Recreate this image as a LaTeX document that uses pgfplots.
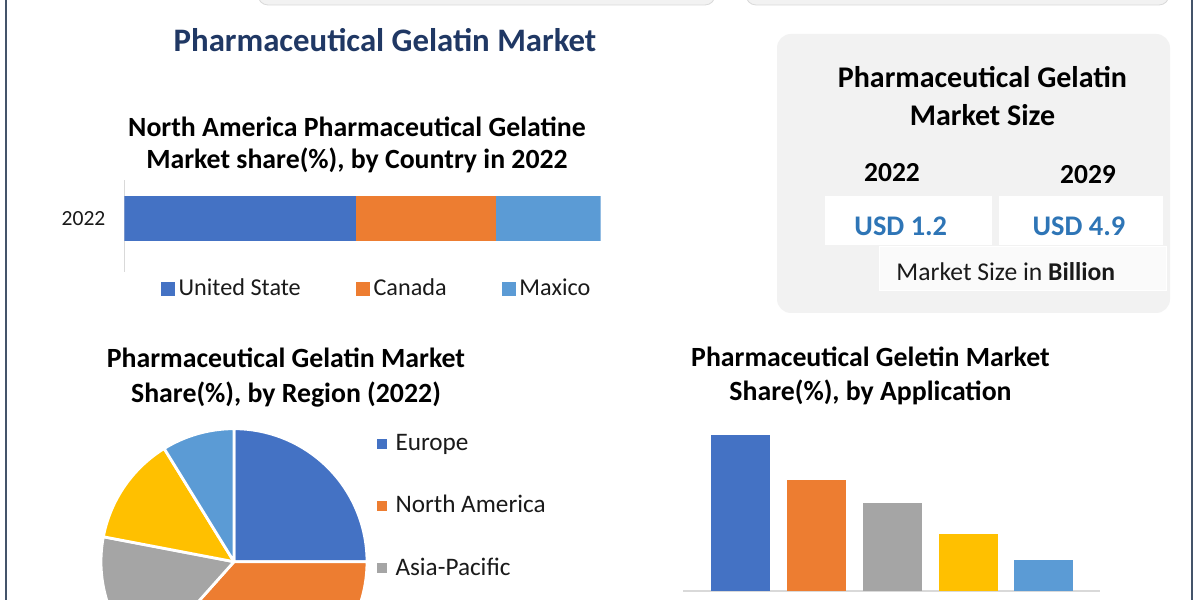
\documentclass[border=0pt]{standalone}
\usepackage{fontspec}
\setmainfont{Carlito}
\usepackage{pgfplots}
\pgfplotsset{compat=1.18}
\usepackage{pgfplotstable}

\definecolor{cBlue}{HTML}{4472C4}
\definecolor{cOrange}{HTML}{ED7D31}
\definecolor{cGray}{HTML}{A5A5A5}
\definecolor{cYellow}{HTML}{FFC000}
\definecolor{cLBlue}{HTML}{5B9BD5}
\definecolor{navy}{HTML}{203864}
\definecolor{usdblue}{HTML}{2E75B6}
\definecolor{panel}{HTML}{F2F2F2}
\definecolor{frameline}{HTML}{44546A}
\definecolor{axisgray}{HTML}{D9D9D9}
\definecolor{txt}{HTML}{1A1A1A}

% share by region (2022), clockwise from 12 o'clock
\pgfplotstableread{
region share color
Europe 25.0 cBlue
NorthAmerica 36.6 cOrange
AsiaPacific 16.4 cGray
MiddleEastAfrica 13.2 cYellow
SouthAmerica 8.8 cLBlue
}\regiontable

\newcommand\ttl{\fontsize{13.9}{16}\selectfont\bfseries}

\begin{document}
\begin{tikzpicture}
\useasboundingbox (0,0) rectangle (600pt,300pt);
\clip (0,0) rectangle (600pt,300pt);
\fill[white] (0,0) rectangle (600pt,300pt);

% frame and cut-off boxes on top
\draw[frameline, line width=1pt] (2.9pt,0) -- (2.9pt,300pt);
\draw[frameline, line width=1pt] (596pt,0) -- (596pt,300pt);
\fill[panel, draw=axisgray, rounded corners=5pt] (129pt,297.5pt) rectangle (357.5pt,310pt);
\fill[panel, draw=axisgray, rounded corners=5pt] (373pt,297.5pt) rectangle (584.5pt,310pt);

% main title
\node[navy, font=\fontsize{16.4}{19}\selectfont\bfseries] at (192.5pt,280pt) {Pharmaceutical Gelatin Market};

% market size panel
\fill[panel, rounded corners=7pt] (388.5pt,143.5pt) rectangle (585pt,283pt);
\node[font=\fontsize{15}{18}\selectfont\bfseries] at (491.25pt,261.6pt) {Pharmaceutical Gelatin};
\node[font=\fontsize{15}{18}\selectfont\bfseries] at (491.25pt,242.5pt) {Market Size};
\node[font=\fontsize{13.75}{16}\selectfont\bfseries] at (446pt,213.7pt) {2022};
\node[font=\fontsize{13.75}{16}\selectfont\bfseries] at (544pt,212.7pt) {2029};
\fill[white] (412.5pt,177.5pt) rectangle (495.8pt,202pt);
\fill[white] (499.5pt,177.5pt) rectangle (581.5pt,202pt);
\node[usdblue, font=\fontsize{14.2}{17}\selectfont\bfseries] at (450.4pt,186.7pt) {USD 1.2};
\node[usdblue, font=\fontsize{14.2}{17}\selectfont\bfseries] at (539.5pt,186.7pt) {USD 4.9};
\fill[white!60!panel, draw=white] (439.5pt,155pt) rectangle (583.3pt,176.7pt);
\node[txt, font=\fontsize{12.8}{15}\selectfont] at (502.9pt,164.2pt) {Market Size in \textbf{Billion}};

% chart titles
\node[font=\ttl] at (178.5pt,236.5pt) {North America Pharmaceutical Gelatine};
\node[font=\ttl] at (178.5pt,220pt) {Market share(\%), by Country in 2022};
\node[font=\ttl] at (143pt,121pt) {Pharmaceutical Gelatin Market};
\node[font=\ttl] at (143pt,102.5pt) {Share(\%), by Region (2022)};
\node[font=\ttl] at (435.25pt,121.5pt) {Pharmaceutical Geletin Market};
\node[font=\ttl] at (435.25pt,104pt) {Share(\%), by Application};

% North America share by country
\begin{axis}[
  at={(62.25pt,164pt)}, anchor=south west,
  scale only axis, width=238pt, height=46pt,
  xbar stacked, bar width=22.5pt,
  xmin=0, xmax=100, ymin=-1.163, ymax=0.837,
  axis x line=none, axis y line*=left,
  y axis line style={axisgray, line width=0.6pt, -},
  ytick={0}, yticklabels={2022}, major tick length=0pt,
  yticklabel style={font=\fontsize{10.8}{13}\selectfont, text=txt, xshift=-6pt},
  legend columns=3,
  legend style={at={(0.0767,-0.185)}, anchor=west, draw=none, fill=none,
    inner sep=0pt, font=\fontsize{12.1}{14}\selectfont, text=txt,
    nodes={inner sep=1.75pt},
    /tikz/every even column/.append style={column sep=26pt}},
]
\addlegendimage{legend image code/.code={\fill[cBlue] (0pt,-3.25pt) rectangle (6.5pt,3.25pt);}}
\addlegendentry{United State}
\addlegendimage{legend image code/.code={\fill[cOrange] (0pt,-3.25pt) rectangle (6.5pt,3.25pt);}}
\addlegendentry{Canada}
\addlegendimage{legend image code/.code={\fill[cLBlue] (0pt,-3.25pt) rectangle (6.5pt,3.25pt);}}
\addlegendentry{Maxico}
\addplot[forget plot, fill=cBlue, draw=none] coordinates {(48.7,0)};
\addplot[forget plot, fill=cOrange, draw=none] coordinates {(29.3,0)};
\addplot[forget plot, fill=cLBlue, draw=none] coordinates {(22.0,0)};
\end{axis}

% share by region pie
\begin{axis}[
  at={(117pt,19.15pt)}, anchor=origin,
  x=66.5pt, y=66.5pt, xmin=-1, xmax=1, ymin=-1, ymax=1,
  hide axis, clip=false,
  legend cell align=left,
  legend style={at={(axis cs:1.07,1.0)}, anchor=north west, draw=none, fill=none,
    inner sep=0pt, font=\fontsize{12.6}{15}\selectfont, text=txt,
    nodes={inner sep=2.5pt}, row sep=16pt,
    /tikz/every odd column/.append style={column sep=2pt}},
]
\addlegendimage{legend image code/.code={\fill[cBlue] (0pt,-2.25pt) rectangle (4.5pt,2.25pt);}}
\addlegendentry{Europe}
\addlegendimage{legend image code/.code={\fill[cOrange] (0pt,-2.25pt) rectangle (4.5pt,2.25pt);}}
\addlegendentry{North America}
\addlegendimage{legend image code/.code={\fill[cGray] (0pt,-2.25pt) rectangle (4.5pt,2.25pt);}}
\addlegendentry{Asia-Pacific}
\pgfplotsextra{
  \xdef\astart{90}
  \foreach \i in {0,...,4}{
    \pgfplotstablegetelem{\i}{share}\of\regiontable \let\sliceval\pgfplotsretval
    \pgfplotstablegetelem{\i}{color}\of\regiontable \let\slicecol\pgfplotsretval
    \pgfmathsetmacro\aend{\astart-3.6*\sliceval}
    \filldraw[fill=\slicecol, draw=white, line width=1.4pt, line join=round]
      (axis cs:0,0) -- (axis cs:{cos(\astart)},{sin(\astart)})
      arc[start angle=\astart, end angle=\aend, radius=66.5pt] -- cycle;
    \xdef\astart{\aend}
  }
}
\end{axis}

% share by application
\begin{axis}[
  at={(341.5pt,4.5pt)}, anchor=south west,
  x=37.925pt, y=2.216pt, xmin=0.242, xmax=5.74, ymin=0, ymax=40,
  ybar, bar width=29.5pt, bar shift=0pt,
  axis x line*=bottom, axis y line=none,
  x axis line style={axisgray, line width=0.8pt, -},
  xtick=\empty, ytick=\empty,
]
\addplot[fill=cBlue, draw=none] coordinates {(1,35.2)};
\addplot[fill=cOrange, draw=none] coordinates {(2,25.1)};
\addplot[fill=cGray, draw=none] coordinates {(3,19.9)};
\addplot[fill=cYellow, draw=none] coordinates {(4,12.9)};
\addplot[fill=cLBlue, draw=none] coordinates {(5,7.0)};
\end{axis}
\end{tikzpicture}
\end{document}
